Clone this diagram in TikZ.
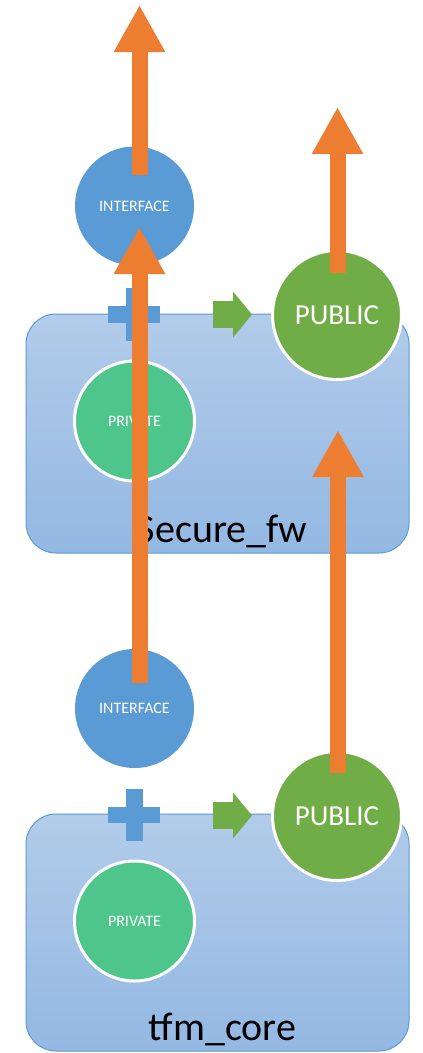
\documentclass[tikz,border=0pt]{standalone}
\usepackage{fontspec}
\setmainfont{Carlito}
\usetikzlibrary{arrows.meta}

\definecolor{ifblue}{HTML}{5B9BD5}
\definecolor{boxtop}{HTML}{B2CCEA}
\definecolor{boxbot}{HTML}{93B8E2}
\definecolor{pubgreen}{HTML}{70AD47}
\definecolor{privgreen}{HTML}{4EC58B}
\definecolor{deporange}{HTML}{ED7D31}

\begin{document}
\begin{tikzpicture}[
  x=1pt, y=-1pt,
  module/.style={draw=ifblue, line width=1pt, rounded corners=30pt, top color=boxtop, bottom color=boxbot},
  iface/.style={circle, fill=ifblue, minimum size=119pt, inner sep=0pt, text=white, font=\fontsize{16}{18}\selectfont},
  priv/.style={circle, fill=privgreen, draw=white, line width=3pt, minimum size=120pt, inner sep=0pt, text=white, font=\fontsize{16}{18}\selectfont},
  pub/.style={circle, fill=pubgreen, draw=white, line width=3pt, minimum size=129pt, inner sep=0pt, text=white, font=\fontsize{29}{32}\selectfont},
  export/.style={draw=pubgreen, line width=27pt, -{Triangle[length=19pt, width=45pt, color=pubgreen]}},
  dep/.style={draw=deporange, line width=16pt, -{Triangle[length=47pt, width=48pt, color=deporange]}},
  modlabel/.style={anchor=base, inner sep=0pt, font=\fontsize{40}{44}\selectfont}
]
  \useasboundingbox (0,0) rectangle (423,1053);

  % modules
  \draw[module] (26,314) rectangle (409,553);
  \draw[module] (26,814) rectangle (409,1051);

  % plus signs
  \fill[ifblue] (108,306) rectangle (160,323);
  \fill[ifblue] (126,288) rectangle (143,341);
  \fill[ifblue] (108,807) rectangle (160,823);
  \fill[ifblue] (126,789) rectangle (143,841);

  % export arrows
  \coordinate (expTs) at (213,314.5);
  \coordinate (expTe) at (252,314.5);
  \coordinate (expBs) at (213,815.5);
  \coordinate (expBe) at (252,815.5);
  \draw[export] (expTs) -- (expTe);
  \draw[export] (expBs) -- (expBe);

  % Secure_fw
  \node[iface] (ifaceT) at (134.5,206) {INTERFACE};
  \node[priv] (privT) at (134.5,421) {PRIVATE};
  \node[pub] (pubT) at (337,315) {PUBLIC};
  \node[modlabel] (secfw) at (222,542) {Secure\_fw};

  % tfm_core
  \node[iface] (ifaceB) at (134.5,708.5) {INTERFACE};
  \node[priv] (privB) at (134.5,921) {PRIVATE};
  \node[pub] (pubB) at (337,816) {PUBLIC};
  \node[modlabel] (tfmcore) at (222.5,1040) {tfm\_core};

  % dependencies
  \coordinate (a1s) at (139.5,175);
  \coordinate (a1e) at (139.5,5);
  \coordinate (a2s) at (139.5,683);
  \coordinate (a2e) at (139.5,227);
  \coordinate (a3s) at (337.5,273);
  \coordinate (a3e) at (337.5,107);
  \coordinate (a4s) at (338,773);
  \coordinate (a4e) at (338,430);
  \draw[dep] (a1s) -- (a1e);
  \draw[dep] (a2s) -- (a2e);
  \draw[dep] (a3s) -- (a3e);
  \draw[dep] (a4s) -- (a4e);
\end{tikzpicture}
\end{document}
